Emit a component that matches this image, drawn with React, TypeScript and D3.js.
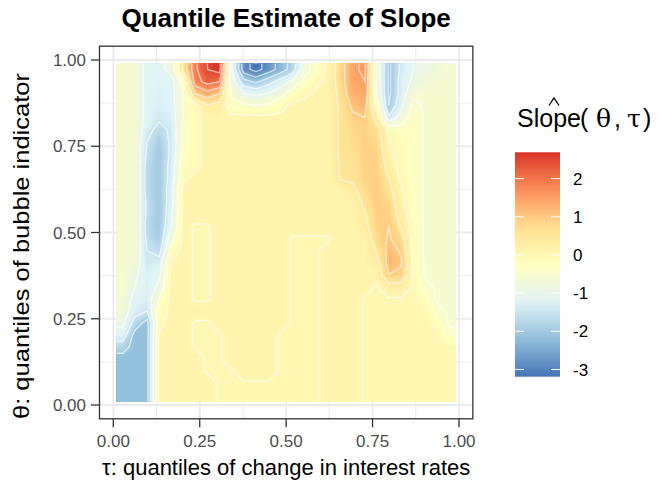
import React from 'react';
import * as d3 from 'd3';

// extent of the estimate grid on both axes
const tauRange = [0.01, 0.99];
const thetaRange = [0.01, 0.99];

const axisBreaks = [0, 0.25, 0.5, 0.75, 1];
const minorBreaks = [0.125, 0.375, 0.625, 0.875];
const axisLabels = ['0.00', '0.25', '0.50', '0.75', '1.00'];

const legendBreaks = [2, 1, 0, -1, -2, -3];
const contourLevels = [-3, -2.5, -2, -1.5, -1, -0.5, 0, 0.5, 1, 1.5, 2, 2.5];

// RdYlBu, low -> high
const palette = ['#4575b4', '#91bfdb', '#e0f3f8', '#ffffbf', '#fee090', '#fc8d59', '#d73027'];

// slope estimates, one row per theta band from ~0.97 (top) to ~0.03 (bottom), 28 tau columns each
const slopeRows = [
  [-0.55, -0.55, -1.2, -1.2, -0.8, 0.6, 1.9, 2.5, 2.69, -0.9, -2.8, -3.19, -2.8, -2.3, -1.8, -0.7, -0.3, 0.12, 0.8, 1.4, 1.6, -0.6, -2.1, -1.4, -1.0, -0.9, -0.7, -0.55],
  [-0.55, -0.55, -1.2, -1.2, -1.2, -0.3, 1.8, 2.2, 2.0, -0.8, -1.8, -2.1, -1.7, -1.3, -0.9, -0.4, -0.1, 0.12, 0.8, 1.4, 1.5, -0.6, -2.1, -1.3, -0.9, -0.7, -0.6, -0.55],
  [-0.55, -0.55, -1.2, -1.3, -1.2, -0.5, 1.0, 1.3, 1.0, -0.6, -1.0, -1.1, -1.0, -0.7, -0.3, -0.1, 0.1, 0.12, 0.7, 1.3, 1.4, -0.5, -2.1, -1.3, -0.6, -0.55, -0.55, -0.55],
  [-0.55, -0.55, -1.2, -1.3, -1.2, -0.5, -0.1, 0.45, 0.3, -0.3, -0.4, -0.5, -0.4, -0.2, 0.1, 0.12, 0.12, 0.12, 0.6, 1.1, 1.2, -0.2, -2.0, -1.1, -0.4, -0.55, -0.55, -0.55],
  [-0.55, -0.55, -1.2, -1.4, -1.3, -0.5, -0.1, 0.12, 0.12, 0.12, 0.12, 0.12, 0.12, 0.12, 0.12, 0.12, 0.12, 0.12, 0.6, 0.9, 1.0, 0.3, -1.4, -0.8, -0.3, -0.55, -0.55, -0.55],
  [-0.55, -0.55, -1.3, -1.7, -1.4, -0.4, -0.1, 0.12, 0.12, 0.12, 0.12, 0.12, 0.12, 0.12, 0.12, 0.12, 0.12, 0.12, 0.6, 0.8, 0.9, 0.7, -0.1, -0.3, -0.3, -0.55, -0.55, -0.55],
  [-0.55, -0.55, -1.5, -1.9, -1.4, -0.4, -0.1, 0.12, 0.12, 0.12, 0.12, 0.12, 0.12, 0.12, 0.12, 0.12, 0.12, 0.12, 0.6, 0.8, 0.9, 0.8, 0.0, -0.2, -0.3, -0.55, -0.55, -0.55],
  [-0.55, -0.55, -1.6, -2.0, -1.4, -0.3, -0.1, 0.12, 0.12, 0.12, 0.12, 0.12, 0.12, 0.12, 0.12, 0.12, 0.12, 0.12, 0.6, 0.7, 0.9, 0.9, 0.1, -0.2, -0.3, -0.55, -0.55, -0.55],
  [-0.55, -0.55, -1.7, -2.0, -1.3, -0.2, -0.1, 0.12, 0.12, 0.12, 0.12, 0.12, 0.12, 0.12, 0.12, 0.12, 0.12, 0.12, 0.55, 0.6, 0.9, 0.9, 0.3, -0.2, -0.3, -0.55, -0.55, -0.55],
  [-0.55, -0.55, -1.7, -2.0, -1.3, -0.1, 0.12, 0.12, 0.12, 0.12, 0.12, 0.12, 0.12, 0.12, 0.12, 0.12, 0.12, 0.12, 0.55, 0.6, 0.85, 0.95, 0.5, -0.1, -0.3, -0.55, -0.55, -0.55],
  [-0.55, -0.55, -1.7, -2.0, -1.2, 0.12, 0.12, 0.12, 0.12, 0.12, 0.12, 0.12, 0.12, 0.12, 0.12, 0.12, 0.12, 0.12, 0.12, 0.35, 0.8, 0.95, 0.65, 0.05, -0.3, -0.55, -0.55, -0.55],
  [-0.55, -0.55, -1.6, -2.0, -1.2, 0.12, 0.12, 0.12, 0.12, 0.12, 0.12, 0.12, 0.12, 0.12, 0.12, 0.12, 0.12, 0.12, 0.12, 0.12, 0.65, 0.95, 0.85, 0.15, -0.3, -0.55, -0.55, -0.55],
  [-0.55, -0.55, -1.6, -2.0, -1.1, 0.12, 0.12, 0.12, 0.12, 0.12, 0.12, 0.12, 0.12, 0.12, 0.12, 0.12, 0.12, 0.12, 0.12, 0.12, 0.45, 0.95, 0.9, 0.25, -0.3, -0.55, -0.55, -0.55],
  [-0.55, -0.55, -1.7, -2.0, -1.0, 0.12, -0.03, -0.03, 0.12, 0.12, 0.12, 0.12, 0.12, 0.12, 0.12, 0.12, 0.12, 0.12, 0.12, 0.12, 0.35, 0.9, 1.0, 0.45, -0.2, -0.55, -0.55, -0.55],
  [-0.55, -0.55, -1.6, -1.9, -0.7, 0.12, -0.03, -0.03, 0.12, 0.12, 0.12, 0.12, 0.12, 0.12, -0.03, -0.03, -0.03, -0.03, 0.12, 0.12, 0.12, 0.8, 1.05, 0.75, -0.2, -0.55, -0.55, -0.55],
  [-0.55, -0.6, -1.5, -1.7, -0.3, 0.12, -0.03, -0.03, 0.12, 0.12, 0.12, 0.12, 0.12, 0.12, -0.03, -0.03, -0.03, 0.12, 0.12, 0.12, 0.12, 0.55, 1.15, 0.95, -0.2, -0.55, -0.55, -0.55],
  [-0.55, -0.7, -1.4, -1.3, 0.0, 0.12, -0.03, -0.03, 0.12, 0.12, 0.12, 0.12, 0.12, 0.12, -0.03, -0.03, -0.03, 0.12, 0.12, 0.12, 0.12, 0.35, 1.2, 1.05, -0.1, -0.55, -0.55, -0.55],
  [-0.55, -0.9, -1.3, -1.1, 0.12, 0.12, -0.03, -0.03, 0.12, 0.12, 0.12, 0.12, 0.12, 0.12, -0.03, -0.03, -0.03, 0.12, 0.12, 0.12, 0.12, 0.12, 1.0, 0.9, -0.1, -0.55, -0.55, -0.55],
  [-0.55, -1.0, -1.3, -0.9, 0.12, 0.12, -0.03, -0.03, 0.12, 0.12, 0.12, 0.12, 0.12, 0.12, -0.03, -0.03, -0.03, 0.12, 0.12, 0.12, 0.12, -0.03, 0.3, 0.3, -0.03, -0.4, -0.55, -0.55],
  [-0.6, -1.2, -1.3, -0.5, 0.12, 0.12, -0.03, -0.03, 0.12, 0.12, 0.12, 0.12, 0.12, 0.12, -0.03, -0.03, -0.03, 0.12, 0.12, 0.12, -0.03, -0.03, -0.03, -0.03, -0.03, -0.2, -0.55, -0.55],
  [-0.7, -1.3, -1.5, -0.2, 0.12, 0.12, 0.12, 0.12, 0.12, 0.12, 0.12, 0.12, 0.12, 0.12, -0.03, -0.03, -0.03, 0.12, 0.12, 0.12, -0.03, -0.03, -0.03, -0.03, -0.03, -0.03, -0.4, -0.55],
  [-0.9, -1.7, -2.2, -0.1, 0.12, 0.12, -0.03, -0.03, 0.12, 0.12, 0.12, 0.12, 0.12, 0.12, -0.03, -0.03, -0.03, 0.12, 0.12, 0.12, -0.03, -0.03, -0.03, -0.03, -0.03, -0.03, -0.2, -0.55],
  [-1.2, -2.2, -2.2, 0.05, 0.12, 0.12, -0.03, -0.03, -0.03, 0.12, 0.12, 0.12, 0.12, -0.03, -0.03, -0.03, -0.03, 0.12, 0.12, 0.12, -0.03, -0.03, -0.03, -0.03, -0.03, -0.03, -0.03, -0.4],
  [-1.8, -2.2, -2.2, 0.1, 0.12, 0.12, -0.03, -0.03, -0.03, 0.12, 0.12, 0.12, 0.12, -0.03, -0.03, -0.03, -0.03, 0.12, 0.12, 0.12, -0.03, -0.03, -0.03, -0.03, -0.03, -0.03, -0.03, -0.03],
  [-2.2, -2.2, -2.2, 0.1, 0.12, 0.12, 0.12, -0.03, -0.03, 0.12, 0.12, 0.12, 0.12, -0.03, -0.03, -0.03, -0.03, 0.12, 0.12, 0.12, -0.03, -0.03, -0.03, -0.03, -0.03, -0.03, -0.03, -0.03],
  [-2.2, -2.2, -2.2, 0.12, 0.12, 0.12, 0.12, -0.03, -0.03, -0.03, 0.12, 0.12, 0.12, -0.03, -0.03, -0.03, -0.03, 0.12, 0.12, 0.12, -0.03, -0.03, -0.03, -0.03, -0.03, -0.03, -0.03, -0.03],
  [-2.2, -2.2, -2.2, 0.12, 0.12, 0.12, 0.12, 0.12, -0.03, -0.03, -0.03, -0.03, -0.03, -0.03, -0.03, -0.03, -0.03, 0.12, 0.12, 0.12, -0.03, -0.03, -0.03, -0.03, -0.03, -0.03, -0.03, -0.03],
  [-2.2, -2.2, -2.2, 0.12, 0.12, 0.12, 0.12, 0.12, -0.03, -0.03, -0.03, -0.03, -0.03, -0.03, -0.03, -0.03, -0.03, 0.12, 0.12, 0.12, -0.03, -0.03, -0.03, -0.03, -0.03, -0.03, -0.03, -0.03],
];

const font = 'Arial, "Liberation Sans", sans-serif';

const App = () => {
  const x = d3.scaleLinear().domain([0, 1]).range([113.3, 459]);
  const y = d3.scaleLinear().domain([0, 1]).range([405, 60]);
  const px0 = x(-0.04), px1 = x(1.04), py0 = y(1.04), py1 = y(-0.04);

  const nx = slopeRows[0].length;
  const ny = slopeRows.length;
  const values = slopeRows.flat();
  const [vMin, vMax] = d3.extent(values) as [number, number];

  const color = d3.scaleLinear<string>()
    .domain(palette.map((_, i) => vMin + (i * (vMax - vMin)) / (palette.length - 1)))
    .range(palette)
    .interpolate(d3.interpolateLab)
    .clamp(true);

  // repeat the edge cells once so the surface keeps square corners
  const padded: number[] = [];
  for (let j = -1; j <= ny; j++) {
    const row = slopeRows[Math.max(0, Math.min(ny - 1, j))];
    for (let i = -1; i <= nx; i++) padded.push(row[Math.max(0, Math.min(nx - 1, i))]);
  }

  // grid units -> data units
  const gx = d3.scaleLinear().domain([1, nx + 1]).range(tauRange);
  const gy = d3.scaleLinear().domain([1, ny + 1]).range([thetaRange[1], thetaRange[0]]);
  const proj = d3.geoTransform({
    point: function (px, py) {
      this.stream.point(x(gx(px)), y(gy(py)));
    },
  });
  const path = d3.geoPath(proj);

  const step = 0.04;
  const bandLevels = d3.range(Math.floor(vMin / step) * step, vMax, step);
  const bands = d3.contours().size([nx + 2, ny + 2]).thresholds(bandLevels)(padded);
  const lines = d3.contours().size([nx + 2, ny + 2]).thresholds(contourLevels)(padded);

  const rx0 = x(tauRange[0]), rx1 = x(tauRange[1]);
  const ry0 = y(thetaRange[1]), ry1 = y(thetaRange[0]);

  // legend
  const barX = 515, barW = 45;
  const legendY = d3.scaleLinear().domain([vMin, vMax]).range([376.7, 152.3]);
  const gradStops = d3.range(0, 1.0001, 0.05);

  return (
    <svg width={658} height={486} style={{ position: 'absolute', left: 0, top: 0 }} fontFamily={font}>
      <defs>
        <clipPath id="rasterClip">
          <rect x={rx0} y={ry0} width={rx1 - rx0} height={ry1 - ry0} />
        </clipPath>
        <linearGradient id="slopeBar" x1="0" y1="1" x2="0" y2="0">
          {gradStops.map(t => (
            <stop key={t} offset={t} stopColor={color(vMin + t * (vMax - vMin))} />
          ))}
        </linearGradient>
      </defs>
      <rect width={658} height={486} fill="white" />

      <text x={(px0 + px1) / 2} y={27} textAnchor="middle" fontSize={26} fontWeight="bold" fill="black">
        Quantile Estimate of Slope
      </text>

      {/* panel grid */}
      <rect x={px0} y={py0} width={px1 - px0} height={py1 - py0} fill="white" />
      {minorBreaks.map(b => (
        <g key={'m' + b} stroke="#ebebeb" strokeWidth={0.9}>
          <line x1={x(b)} x2={x(b)} y1={py0} y2={py1} />
          <line x1={px0} x2={px1} y1={y(b)} y2={y(b)} />
        </g>
      ))}
      {axisBreaks.map(b => (
        <g key={'M' + b} stroke="#ebebeb" strokeWidth={1.8}>
          <line x1={x(b)} x2={x(b)} y1={py0} y2={py1} />
          <line x1={px0} x2={px1} y1={y(b)} y2={y(b)} />
        </g>
      ))}

      {/* estimate surface */}
      <g clipPath="url(#rasterClip)">
        {bands.map((b, i) => (
          <path key={i} d={path(b as any) || ''} fill={color(b.value + step / 2)} fillRule="evenodd" />
        ))}
      </g>
      <g clipPath="url(#rasterClip)" fill="none" stroke="white" strokeOpacity={0.6} strokeWidth={1.4}>
        {lines.map((l, i) => (
          <path key={i} d={path(l as any) || ''} />
        ))}
      </g>

      <rect x={px0} y={py0} width={px1 - px0} height={py1 - py0} fill="none" stroke="#333333" strokeWidth={1.3} />

      {/* axes */}
      {axisBreaks.map((b, i) => (
        <g key={'x' + b}>
          <line x1={x(b)} x2={x(b)} y1={py1} y2={py1 + 8.5} stroke="#333333" strokeWidth={1.3} />
          <text x={x(b)} y={447} textAnchor="middle" fontSize={17} fill="#4d4d4d">{axisLabels[i]}</text>
          <line x1={px0 - 8.5} x2={px0} y1={y(b)} y2={y(b)} stroke="#333333" strokeWidth={1.3} />
          <text x={86} y={y(b)} dy="0.36em" textAnchor="end" fontSize={17} fill="#4d4d4d">{axisLabels[i]}</text>
        </g>
      ))}
      <text x={(px0 + px1) / 2} y={475} textAnchor="middle" fontSize={22} fill="black">
        τ: quantiles of change in interest rates
      </text>
      <text transform="translate(29, 246) rotate(-90)" textAnchor="middle" fontSize={22} fill="black"
        textLength={346} lengthAdjust="spacingAndGlyphs">
        θ: quantiles of bubble indicator
      </text>

      {/* legend */}
      <path d="M549,105.5L554,98L559,105.5" fill="none" stroke="black" strokeWidth={1.3} />
      <text y={127} fontSize={25} fill="black">
        <tspan x={517}>Slope</tspan>
        <tspan x={580}>(</tspan>
        <tspan x={596} fontFamily='"DejaVu Serif", serif'>θ</tspan>
        <tspan x={614}>,</tspan>
        <tspan x={627} fontFamily='"DejaVu Serif", serif'>τ</tspan>
        <tspan x={643}>)</tspan>
      </text>
      <rect x={barX} y={legendY(vMax)} width={barW} height={legendY(vMin) - legendY(vMax)} fill="url(#slopeBar)" />
      {legendBreaks.map(b => (
        <g key={'l' + b}>
          <line x1={barX} x2={barX + barW / 5} y1={legendY(b)} y2={legendY(b)} stroke="white" strokeWidth={1} />
          <line x1={barX + barW - barW / 5} x2={barX + barW} y1={legendY(b)} y2={legendY(b)} stroke="white" strokeWidth={1} />
          <text x={573} y={legendY(b)} dy="0.36em" fontSize={17} fill="black">{b}</text>
        </g>
      ))}
    </svg>
  );
};

export default App;
